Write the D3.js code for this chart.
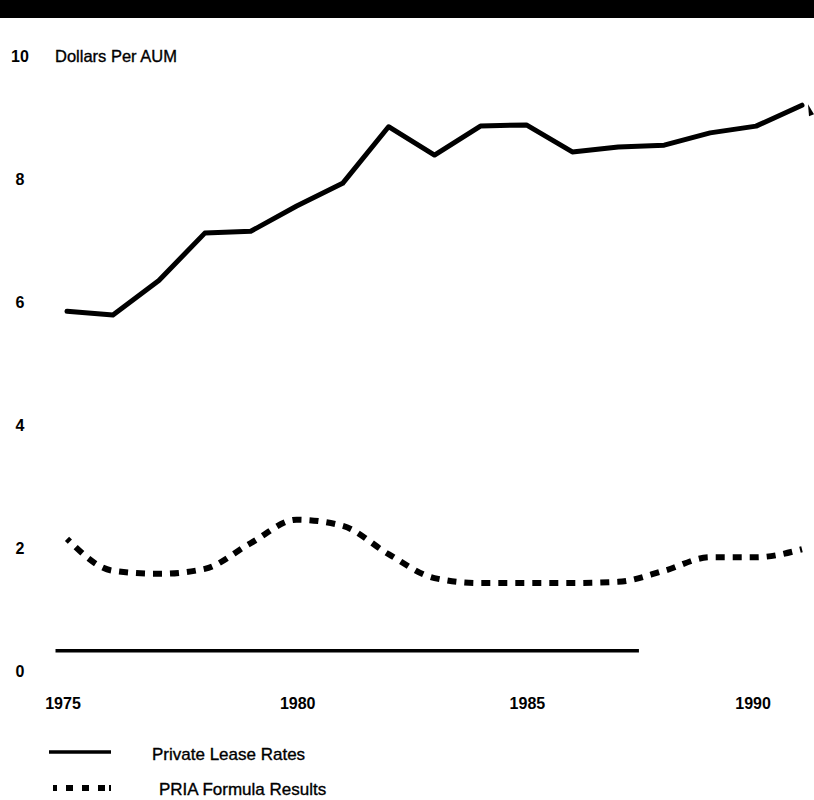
<!DOCTYPE html>
<html>
<head>
<meta charset="utf-8">
<script src="https://cdn.jsdelivr.net/npm/d3@7"></script>
<style>
  html, body { margin: 0; padding: 0; background: #fff; }
  svg { display: block; font-family: "Liberation Sans", Arial, Helvetica, sans-serif; }
</style>
</head>
<body>
<svg id="chart" width="814" height="800"></svg>
<script>
// ---- data ----
const years = [1975,1976,1977,1978,1979,1980,1981,1982,1983,1984,1985,1986,1987,1988,1989,1990,1991];
const privateLeaseRates = [5.85,5.79,6.35,7.12,7.15,7.56,7.93,8.85,8.39,8.86,8.88,8.44,8.52,8.55,8.75,8.86,9.20];
const priaFormulaResults = [2.15,1.63,1.58,1.66,2.08,2.46,2.36,1.90,1.51,1.43,1.43,1.43,1.45,1.63,1.85,1.85,1.98];
const baselineYears = [1974.75, 1987.45];
const baselineValues = [0.33, 0.33];
const yTicks = [0, 2, 4, 6, 8, 10];
const xTicks = [1975, 1980, 1985, 1990];
const yTitle = "Dollars Per AUM";
const legendLabels = ["Private Lease Rates", "PRIA Formula Results"];

// ---- layout ----
const svg = d3.select("#chart");
const x = d3.scaleLinear().domain([1975, 1991]).range([67, 802]);
const y = d3.scaleLinear().domain([0, 10]).range([671, 56]);

// top black bar
svg.append("rect").attr("x", 0).attr("y", 0).attr("width", 814).attr("height", 18).attr("fill", "#000");

// y tick labels
svg.append("g").selectAll("text").data(yTicks).join("text")
  .attr("x", 20).attr("y", d => y(d)).attr("dy", "0.36em")
  .attr("text-anchor", "middle")
  .attr("font-size", 16).attr("font-weight", "bold")
  .text(d => d);

// y title
svg.append("text").attr("x", 55).attr("y", y(10)).attr("dy", "0.36em")
  .attr("font-size", 16.5).attr("stroke", "#000").attr("stroke-width", 0.35).text(yTitle);

// x tick labels
svg.append("g").selectAll("text").data(xTicks).join("text")
  .attr("x", d => x(d) + (d === 1975 ? -4 : d === 1990 ? -3 : 1)).attr("y", 703).attr("dy", "0.36em")
  .attr("text-anchor", "middle")
  .attr("font-size", 16).attr("font-weight", "bold")
  .text(d => d);

// baseline rule
svg.append("path")
  .datum(baselineYears.map((yr, i) => [yr, baselineValues[i]]))
  .attr("d", d3.line().x(d => x(d[0])).y(d => y(d[1])))
  .attr("fill", "none").attr("stroke", "#000").attr("stroke-width", 3.5);

// private lease rates (solid)
svg.append("path")
  .datum(years.map((yr, i) => [yr, privateLeaseRates[i]]))
  .attr("d", d3.line().x(d => x(d[0])).y(d => y(d[1])))
  .attr("fill", "none").attr("stroke", "#000").attr("stroke-width", 5)
  .attr("stroke-linejoin", "round").attr("stroke-linecap", "round");

// PRIA formula results (dashed, smooth)
svg.append("path")
  .datum(years.map((yr, i) => [yr, priaFormulaResults[i]]))
  .attr("d", d3.line().curve(d3.curveMonotoneX).x(d => x(d[0])).y(d => y(d[1])))
  .attr("fill", "none").attr("stroke", "#000").attr("stroke-width", 6)
  .attr("stroke-dasharray", "9,8").attr("stroke-dashoffset", 5);

// small mark at right edge
svg.append("path")
  .attr("d", d3.line()([[x(1991) + 6, y(9.20) - 1], [x(1991) + 12, y(9.20) + 9], [x(1991) + 7, y(9.20) + 11]]))
  .attr("fill", "#000");

// legend
const lg = svg.append("g");
lg.append("line").attr("x1", 49).attr("x2", 111).attr("y1", 752).attr("y2", 752)
  .attr("stroke", "#000").attr("stroke-width", 3.5);
lg.append("text").attr("x", 152).attr("y", 754).attr("dy", "0.36em").attr("font-size", 17)
  .attr("stroke", "#000").attr("stroke-width", 0.35).text(legendLabels[0]);
lg.append("line").attr("x1", 53).attr("x2", 111).attr("y1", 788).attr("y2", 788)
  .attr("stroke", "#000").attr("stroke-width", 6).attr("stroke-dasharray", "4,9,7,9,7,9,7");
lg.append("text").attr("x", 159).attr("y", 789).attr("dy", "0.36em").attr("font-size", 17)
  .attr("stroke", "#000").attr("stroke-width", 0.35).text(legendLabels[1]);
</script>
</body>
</html>
